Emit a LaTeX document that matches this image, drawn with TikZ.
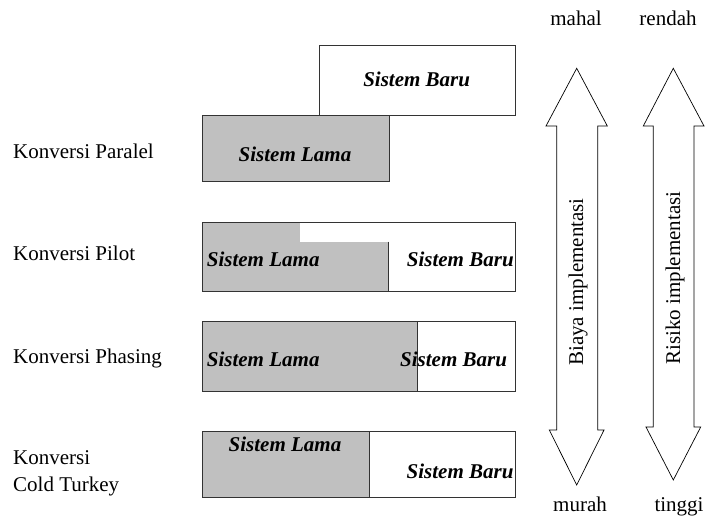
\documentclass[tikz,border=0pt]{standalone}
\usepackage{fontspec}
\setmainfont{Liberation Serif}
\usetikzlibrary{positioning}
\definecolor{lama}{HTML}{C0C0C0}

\tikzset{
  sysbox/.style={draw=black!80,line width=0.8pt},
  sysname/.style={font=\fontsize{21}{25}\selectfont\bfseries\itshape,inner sep=0pt,anchor=base},
  rowlabel/.style={font=\fontsize{21}{27}\selectfont,anchor=base west,align=left,inner sep=0pt},
  scalelabel/.style={font=\fontsize{21}{25}\selectfont,inner sep=0pt},
  bigarrow/.style={draw=black,line width=0.7pt,fill=white}
}

\begin{document}
\begin{tikzpicture}[x=1pt,y=-1pt]
  \useasboundingbox (0,0) rectangle (705,522);

  % Paralel
  \draw[sysbox,fill=white] (319.3,45) rectangle (515,115);
  \draw[sysbox,fill=lama] (202.3,115) rectangle (389,181.7);
  \node[sysname] (parbaru) at (416.7,86.7) {Sistem Baru};
  \node[sysname] (parlama) at (295,161.7) {Sistem Lama};
  \node[rowlabel] (paralel) at (13,158.3) {Konversi Paralel};

  % Pilot
  \fill[lama] (202.3,222.3) rectangle (388,291.7);
  \fill[white] (300,222.3) rectangle (388,241.7);
  \draw[sysbox] (388,241.7) -- (388,291.7);
  \draw[sysbox] (202.3,222.3) rectangle (515,291.7);
  \node[sysname,anchor=base west] (pillama) at (206.7,266.7) {Sistem Lama};
  \node[sysname,anchor=base west] (pilbaru) at (406.7,266.7) {Sistem Baru};
  \node[rowlabel] (pilot) at (13,260) {Konversi Pilot};

  % Phasing
  \fill[lama] (202.3,321.7) rectangle (417.7,391.7);
  \draw[sysbox] (417.7,321.7) -- (417.7,391.7);
  \draw[sysbox] (202.3,321.7) rectangle (515,391.7);
  \node[sysname,anchor=base west] (phalama) at (206.7,366.7) {Sistem Lama};
  \node[sysname,anchor=base west] (phabaru) at (400,366.7) {Sistem Baru};
  \node[rowlabel] (phasing) at (13,363.3) {Konversi Phasing};

  % Cold Turkey
  \fill[lama] (202.3,431) rectangle (369,497.7);
  \draw[sysbox] (369,431) -- (369,497.7);
  \node[sysname] (ctlama) at (285,451.7) {Sistem Lama};
  \node[sysname,anchor=base west] (ctbaru) at (406.5,478.3) {Sistem Baru};
  \draw[sysbox] (202.3,431) rectangle (515,497.7);
  \node[rowlabel] (cold) at (13,491.7) {Konversi\\Cold Turkey};

  % Biaya
  \draw[bigarrow] (576.7,68.3) -- (607.3,126) -- (597.7,126) -- (597.7,430)
    -- (604,430) -- (576.7,485) -- (549.3,430) -- (556.7,430) -- (556.7,126)
    -- (546,126) -- cycle;
  \node[scalelabel,rotate=90] (biaya) at (578,282) {Biaya implementasi};
  \node[scalelabel,anchor=base] (mahal) at (576,26) {mahal};
  \node[scalelabel,anchor=base] (murah) at (580,511) {murah};

  % Risiko
  \draw[bigarrow] (673.3,68.3) -- (704,126) -- (694,126) -- (694,427)
    -- (700.7,427) -- (673.3,480) -- (646,427) -- (653.3,427) -- (653.3,126)
    -- (643.3,126) -- cycle;
  \node[scalelabel,rotate=90] (risiko) at (675,278) {Risiko implementasi};
  \node[scalelabel,anchor=base] (rendah) at (668,26) {rendah};
  \node[scalelabel,anchor=base] (tinggi) at (679,511) {tinggi};
\end{tikzpicture}
\end{document}
